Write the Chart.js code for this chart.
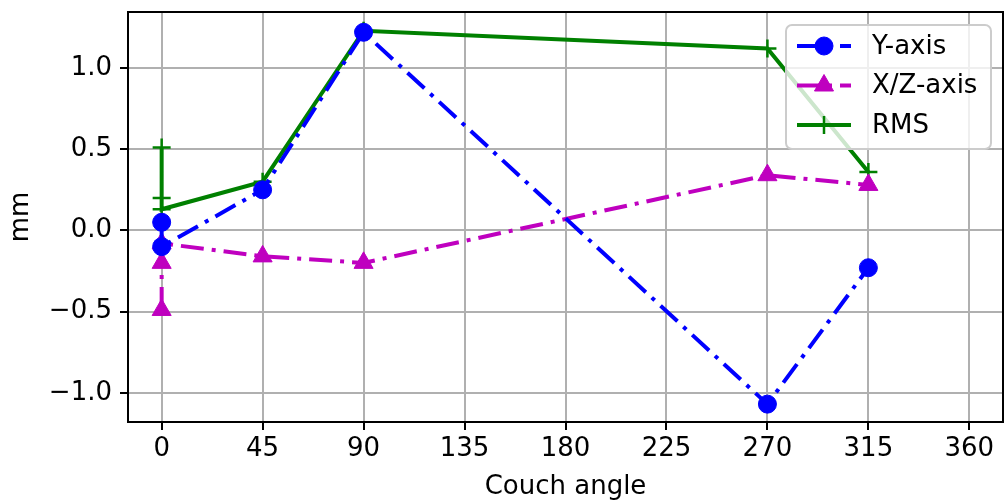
<!DOCTYPE html>
<html>
<head>
<meta charset="utf-8">
<script src="https://cdn.jsdelivr.net/npm/chart.js@4/dist/chart.umd.min.js"></script>
<style>
  html, body { margin: 0; padding: 0; background: #fff; }
  #wrap { width: 1005px; height: 503px; }
</style>
</head>
<body>
<div id="wrap"><canvas id="couchChart"></canvas></div>
<script>
// values
const xTicks = [0, 45, 90, 135, 180, 225, 270, 315, 360];
const yTicks = [-1.0, -0.5, 0.0, 0.5, 1.0];

const yAxisAngles = [0, 0, 45, 90, 270, 315];
const yAxisValues = [0.05, -0.1, 0.25, 1.22, -1.07, -0.23];

const xzAngles = [0, 0, 0, 45, 90, 270, 315];
const xzValues = [-0.49, -0.2, -0.08, -0.16, -0.2, 0.34, 0.28];

const rmsAngles = [0, 0, 0, 45, 90, 270, 315];
const rmsValues = [0.51, 0.2, 0.13, 0.3, 1.23, 1.12, 0.36];

const seriesLabels = ['Y-axis', 'X/Z-axis', 'RMS'];

const FONT = '"DejaVu Sans", sans-serif';
const FSIZE = 26;
const dashDot = [23, 8, 4, 8];

// wanted plot box (matplotlib axes) inside the 1005x503 canvas
const AREA = { left: 128, top: 11, right: 1003, bottom: 422 };

function toPoints(xs, ys) {
  return xs.map((x, i) => ({ x: x, y: ys[i] }));
}

// pin the plot box: the layout keeps some px of its own on the right
const pinAreaPlugin = {
  id: 'pinArea',
  afterLayout(chart) {
    const a = chart.chartArea;
    a.right = AREA.right;
    a.width = a.right - a.left;
    const x = chart.scales.x;
    x.right = AREA.right;
    x.width = x.right - x.left;
    x.configure();
  }
};

// top/right spines
const framePlugin = {
  id: 'frame',
  afterDatasetsDraw(chart) {
    const { ctx, chartArea: a } = chart;
    ctx.save();
    ctx.strokeStyle = '#000';
    ctx.lineWidth = 2;
    ctx.beginPath();
    ctx.moveTo(a.left, a.top);
    ctx.lineTo(a.right, a.top);
    ctx.lineTo(a.right, a.bottom);
    ctx.stroke();
    ctx.restore();
  }
};

// matplotlib-like legend in the upper right corner
const legendPlugin = {
  id: 'mplLegend',
  afterDatasetsDraw(chart) {
    const { ctx, chartArea: a } = chart;
    const w = 205, h = 124;
    const x0 = a.right - 12 - w, y0 = a.top + 13;
    ctx.save();
    ctx.beginPath();
    ctx.roundRect(x0, y0, w, h, 6);
    ctx.fillStyle = 'rgba(255,255,255,0.8)';
    ctx.fill();
    ctx.strokeStyle = '#cccccc';
    ctx.lineWidth = 2;
    ctx.stroke();

    chart.data.datasets.forEach((ds, i) => {
      const cy = y0 + 21 + i * 39.5;
      ctx.beginPath();
      ctx.setLineDash(ds.borderDash || []);
      ctx.strokeStyle = ds.borderColor;
      ctx.lineWidth = ds.borderWidth;
      ctx.moveTo(x0 + 11, cy);
      ctx.lineTo(x0 + 65, cy);
      ctx.stroke();
      ctx.setLineDash([]);
      ctx.fillStyle = ds.pointBackgroundColor;
      ctx.strokeStyle = ds.borderColor;
      ctx.lineWidth = ds.pointBorderWidth;
      Chart.helpers.drawPoint(ctx, {
        pointStyle: ds.pointStyle,
        radius: ds.pointRadius,
        borderWidth: ds.pointBorderWidth
      }, x0 + 38, cy);
      ctx.fillStyle = '#000';
      ctx.font = FSIZE + 'px ' + FONT;
      ctx.textBaseline = 'middle';
      ctx.fillText(ds.label, x0 + 86, cy + 1);
    });
    ctx.restore();
  }
};

function fmt(v) {
  return v.toFixed(1).replace('-', '\u2212');
}

function noPad(s) {
  s.paddingTop = 0;
  s.paddingBottom = 0;
  s.paddingLeft = 0;
  s.paddingRight = 0;
}

const ctx = document.getElementById('couchChart').getContext('2d');

new Chart(ctx, {
  type: 'scatter',
  data: {
    datasets: [
      {
        label: seriesLabels[0],
        data: toPoints(yAxisAngles, yAxisValues),
        showLine: true,
        borderColor: '#0000ff',
        backgroundColor: '#0000ff',
        pointBackgroundColor: '#0000ff',
        borderWidth: 4,
        borderDash: dashDot,
        pointStyle: 'circle',
        pointRadius: 9,
        pointBorderWidth: 1,
        pointHoverRadius: 9
      },
      {
        label: seriesLabels[1],
        data: toPoints(xzAngles, xzValues),
        showLine: true,
        borderColor: '#bf00bf',
        backgroundColor: '#bf00bf',
        pointBackgroundColor: '#bf00bf',
        borderWidth: 4,
        borderDash: dashDot,
        pointStyle: 'triangle',
        pointRadius: 11,
        pointBorderWidth: 1,
        pointHoverRadius: 11
      },
      {
        label: seriesLabels[2],
        data: toPoints(rmsAngles, rmsValues),
        showLine: true,
        borderColor: '#008000',
        backgroundColor: '#008000',
        pointBackgroundColor: '#008000',
        borderWidth: 4,
        pointStyle: 'cross',
        pointRadius: 9,
        pointBorderWidth: 2.5,
        pointHoverRadius: 9
      }
    ]
  },
  options: {
    responsive: true,
    maintainAspectRatio: false,
    animation: false,
    layout: { padding: { top: AREA.top, right: 1005 - AREA.right, left: 0, bottom: 0 } },
    plugins: {
      legend: { display: false },
      tooltip: { enabled: false }
    },
    scales: {
      x: {
        type: 'linear',
        min: -15,
        max: 375,
        afterBuildTicks: (s) => { s.ticks = xTicks.map(v => ({ value: v })); },
        afterFit: (s) => { s.height = 503 - AREA.bottom; noPad(s); },
        grid: { color: '#b0b0b0', lineWidth: 2, tickColor: '#000', tickLength: 8, drawTicks: true },
        border: { color: '#000', width: 2 },
        ticks: { color: '#000', font: { family: FONT, size: FSIZE }, padding: 4, maxRotation: 0,
                 callback: (v) => String(v) },
        title: { display: true, text: 'Couch angle', color: '#000',
                 font: { family: FONT, size: FSIZE }, padding: { top: 0, bottom: 0 } }
      },
      y: {
        type: 'linear',
        min: -1.18,
        max: 1.345,
        afterBuildTicks: (s) => { s.ticks = yTicks.map(v => ({ value: v })); },
        afterFit: (s) => { s.width = AREA.left; noPad(s); },
        grid: { color: '#b0b0b0', lineWidth: 2, tickColor: '#000', tickLength: 8, drawTicks: true },
        border: { color: '#000', width: 2 },
        ticks: { color: '#000', font: { family: FONT, size: FSIZE }, padding: 8,
                 callback: (v) => fmt(v) },
        title: { display: true, text: 'mm', color: '#000',
                 font: { family: FONT, size: FSIZE }, padding: { top: 6, bottom: 0 } }
      }
    }
  },
  plugins: [pinAreaPlugin, framePlugin, legendPlugin]
});
</script>
</body>
</html>
